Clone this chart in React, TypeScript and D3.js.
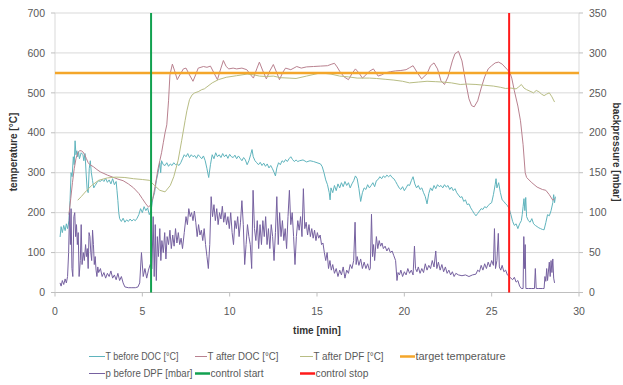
import React from "react";
import * as d3 from "d3";

// ---- data (time [min], value) ----
const tBeforeDOC: [number, number][] = [
  [0.29,139],[0.35,165],[0.42,150],[0.5,168],[0.58,155],[0.65,172],[0.72,160],[0.8,180],[0.86,230],[0.92,300],[0.98,290],[1.05,340],[1.1,320],[1.15,380],[1.2,345],[1.25,355],[1.3,340],[1.35,352],[1.4,335],[1.5,350],[1.6,345],[1.65,330],[1.72,348],[1.78,300],[1.84,258],[1.9,250],[1.96,310],[2.02,330],[2.08,300],[2.15,280],[2.22,262],[2.3,268],[2.4,275],[2.5,280],[2.6,278],[2.7,283],[2.8,278],[2.9,286],[3.0,276],[3.1,282],[3.2,272],[3.3,285],[3.4,270],[3.5,278],[3.55,255],[3.6,230],[3.65,200],[3.7,185],[3.8,178],[3.9,186],[4.0,176],[4.1,182],[4.2,178],[4.3,184],[4.4,179],[4.5,183],[4.6,180],[4.7,186],[4.8,195],[4.9,210],[5.0,200],[5.1,215],[5.2,205],[5.3,212],[5.4,195],[5.5,205],[5.6,235],[5.7,250],[5.8,280],[5.9,300],[6.0,325],[6.05,300],[6.1,330],[6.2,320],[6.3,318],[6.4,325],[6.5,316],[6.6,322],[6.7,318],[6.8,325],[6.9,320],[7.0,322],[7.1,318],[7.2,325],[7.3,335],[7.4,345],[7.5,340],[7.6,348],[7.7,338],[7.8,345],[7.9,340],[8.0,343],[8.1,336],[8.2,345],[8.3,340],[8.4,335],[8.5,342],[8.6,330],[8.7,310],[8.8,288],[8.9,320],[9.0,345],[9.1,335],[9.2,350],[9.3,340],[9.4,345],[9.5,338],[9.6,348],[9.7,340],[9.8,345],[9.9,336],[10.0,346],[10.1,340],[10.2,338],[10.3,344],[10.4,335],[10.5,342],[10.6,336],[10.7,330],[10.8,338],[10.9,332],[11.0,320],[11.1,330],[11.2,345],[11.28,358],[11.35,340],[11.45,330],[11.55,325],[11.65,320],[11.75,326],[11.85,318],[11.95,324],[12.05,316],[12.15,322],[12.25,312],[12.35,318],[12.45,310],[12.55,300],[12.62,292],[12.7,312],[12.8,325],[12.9,320],[13.0,330],[13.1,326],[13.2,333],[13.3,328],[13.4,335],[13.5,340],[13.6,333],[13.7,328],[13.8,332],[13.9,328],[14.0,330],[14.2,332],[14.4,327],[14.6,330],[14.8,328],[15.0,325],[15.2,322],[15.3,315],[15.4,300],[15.5,282],[15.6,270],[15.7,250],[15.75,232],[15.8,262],[15.9,250],[16.0,268],[16.1,255],[16.2,272],[16.3,262],[16.4,275],[16.5,265],[16.6,278],[16.7,268],[16.8,275],[16.9,262],[17.0,272],[17.1,280],[17.2,292],[17.3,285],[17.4,260],[17.5,228],[17.6,250],[17.7,262],[17.8,258],[17.9,270],[18.0,262],[18.1,268],[18.2,275],[18.3,265],[18.4,280],[18.5,283],[18.6,290],[18.7,285],[18.8,292],[18.9,288],[19.0,294],[19.1,290],[19.2,294],[19.3,288],[19.4,285],[19.5,278],[19.6,270],[19.7,262],[19.8,258],[19.9,265],[20.0,255],[20.1,262],[20.2,270],[20.3,268],[20.4,280],[20.5,290],[20.6,272],[20.7,262],[20.8,268],[20.9,258],[21.0,262],[21.1,250],[21.2,240],[21.3,222],[21.4,248],[21.5,262],[21.6,255],[21.7,268],[21.8,260],[21.9,270],[22.0,265],[22.1,268],[22.2,262],[22.3,270],[22.4,264],[22.5,268],[22.6,258],[22.7,264],[22.8,255],[22.9,260],[23.0,250],[23.1,244],[23.2,238],[23.3,240],[23.4,228],[23.5,232],[23.6,220],[23.7,222],[23.8,212],[23.9,205],[24.0,198],[24.1,192],[24.2,198],[24.3,204],[24.4,210],[24.5,208],[24.6,215],[24.7,212],[24.8,218],[24.9,222],[25.0,225],[25.1,245],[25.2,270],[25.25,285],[25.3,262],[25.4,275],[25.5,250],[25.6,232],[25.7,228],[25.8,222],[25.9,218],[26.0,210],[26.1,195],[26.2,178],[26.3,168],[26.4,172],[26.5,160],[26.6,172],[26.7,180],[26.75,195],[26.8,215],[26.85,235],[26.9,205],[26.95,238],[27.0,190],[27.1,180],[27.2,176],[27.3,185],[27.4,172],[27.5,168],[27.6,165],[27.7,162],[27.8,160],[27.9,158],[28.0,157],[28.1,175],[28.2,195],[28.3,192],[28.4,205],[28.5,225],[28.55,245],[28.6,225],[28.65,240]
];

const tAfterDOC: [number, number][] = [
  [0.8,195],[0.9,235],[1.0,275],[1.1,310],[1.2,335],[1.3,350],[1.4,355],[1.5,355],[1.6,352],[1.7,345],[1.8,335],[1.9,325],[2.0,320],[2.2,315],[2.4,308],[2.6,302],[2.8,298],[3.0,294],[3.3,289],[3.6,284],[3.9,280],[4.2,272],[4.5,262],[4.8,248],[5.0,235],[5.2,222],[5.35,214],[5.45,218],[5.6,235],[5.75,270],[5.9,310],[6.0,330],[6.1,350],[6.2,375],[6.3,400],[6.4,420],[6.5,480],[6.58,545],[6.72,572],[6.85,555],[7.0,533],[7.15,545],[7.35,560],[7.5,562],[7.7,545],[7.9,529],[8.05,545],[8.2,562],[8.5,566],[8.7,564],[8.9,567],[9.1,550],[9.3,533],[9.45,555],[9.64,581],[9.8,566],[9.95,560],[10.2,562],[10.4,560],[10.7,562],[10.98,558],[11.2,545],[11.36,537],[11.55,560],[11.7,577],[11.9,555],[12.1,535],[12.3,555],[12.5,571],[12.7,550],[12.85,533],[13.05,552],[13.2,562],[13.5,558],[13.84,566],[14.1,562],[14.4,565],[14.8,566],[15.2,567],[15.6,568],[15.85,572],[16.0,574],[16.15,565],[16.3,554],[16.55,540],[16.8,533],[17.0,548],[17.2,560],[17.4,550],[17.6,537],[17.8,545],[18.0,554],[18.23,560],[18.5,542],[18.7,545],[18.9,550],[19.2,553],[19.5,555],[19.8,556],[20.1,558],[20.3,563],[20.5,568],[20.75,550],[20.99,535],[21.3,548],[21.5,568],[21.7,575],[21.9,560],[22.1,530],[22.3,521],[22.5,540],[22.75,580],[22.9,598],[23.1,604],[23.3,580],[23.5,530],[23.7,485],[23.85,468],[24.0,465],[24.2,480],[24.4,512],[24.6,540],[24.8,560],[25.0,568],[25.2,575],[25.4,577],[25.6,572],[25.9,558],[26.05,550],[26.15,537],[26.3,505],[26.5,467],[26.65,430],[26.8,370],[26.92,300],[27.0,288],[27.3,275],[27.6,264],[27.9,258],[28.1,256],[28.3,245],[28.5,231],[28.6,235]
];

const tAfterDPF: [number, number][] = [
  [1.3,231],[1.5,240],[1.8,255],[2.1,268],[2.5,281],[3.0,287],[3.5,289],[4.0,288],[4.5,285],[5.0,283],[5.4,281],[5.7,268],[6.0,256],[6.3,252],[6.6,268],[6.8,290],[7.05,331],[7.25,380],[7.45,431],[7.55,455],[7.7,483],[7.85,495],[8.0,500],[8.2,503],[8.4,508],[8.55,510],[8.7,515],[9.0,525],[9.35,533],[9.8,539],[10.4,543],[11.0,547],[11.4,545],[11.7,542],[12.1,541],[12.5,542],[12.9,538],[13.4,537],[13.8,536],[14.4,542],[15.2,550],[15.8,547],[16.3,542],[16.8,540],[17.3,537],[18.0,537],[18.4,536],[18.9,534],[19.4,532],[19.9,529],[20.3,525],[20.8,527],[21.3,529],[21.8,528],[22.2,527],[22.7,525],[23.2,521],[23.6,522],[24.1,521],[24.6,519],[25.1,517],[25.5,514],[25.8,511],[26.1,512],[26.4,510],[26.55,515],[26.7,521],[26.85,512],[27.0,508],[27.2,504],[27.4,500],[27.55,506],[27.7,503],[27.85,497],[28.0,493],[28.15,497],[28.3,500],[28.45,490],[28.6,477]
];

// backpressure in mbar (secondary axis)
const pBeforeDPF: [number, number][] = [
  [0.29,12],[0.35,8],[0.42,15],[0.5,10],[0.58,17],[0.65,12],[0.72,20],[0.78,50],[0.83,100],[0.88,60],[0.92,105],[0.97,30],[1.02,20],[1.08,95],[1.13,100],[1.18,70],[1.23,85],[1.28,60],[1.33,75],[1.38,20],[1.45,40],[1.5,85],[1.55,35],[1.62,50],[1.68,40],[1.75,60],[1.8,45],[1.85,55],[1.9,30],[1.95,75],[2.0,70],[2.05,50],[2.1,40],[2.15,78],[2.2,60],[2.25,35],[2.3,45],[2.35,28],[2.4,20],[2.45,32],[2.5,25],[2.6,30],[2.7,20],[2.8,25],[2.9,18],[3.0,24],[3.1,20],[3.2,27],[3.3,18],[3.4,22],[3.5,16],[3.6,24],[3.7,15],[3.8,20],[3.9,12],[4.0,7],[4.2,6],[4.4,6],[4.6,6],[4.75,7],[4.85,12],[4.95,50],[5.05,20],[5.15,30],[5.25,18],[5.35,28],[5.45,35],[5.55,30],[5.62,95],[5.68,20],[5.74,85],[5.8,15],[5.86,70],[5.92,45],[6.0,80],[6.06,40],[6.12,65],[6.2,50],[6.28,75],[6.35,42],[6.42,70],[6.5,60],[6.58,78],[6.66,55],[6.74,72],[6.82,58],[6.9,80],[6.98,62],[7.06,75],[7.14,60],[7.22,68],[7.3,55],[7.4,75],[7.5,95],[7.58,85],[7.66,105],[7.74,95],[7.82,100],[7.9,90],[7.98,102],[8.06,88],[8.14,70],[8.22,85],[8.3,72],[8.38,78],[8.46,65],[8.54,80],[8.62,60],[8.7,45],[8.78,30],[8.86,60],[8.94,120],[9.02,95],[9.1,110],[9.18,90],[9.26,105],[9.34,85],[9.42,100],[9.5,92],[9.58,108],[9.66,88],[9.74,100],[9.82,85],[9.9,95],[9.98,80],[10.06,100],[10.14,75],[10.22,60],[10.3,90],[10.38,80],[10.46,95],[10.54,70],[10.62,88],[10.7,115],[10.78,85],[10.86,35],[10.94,60],[11.02,85],[11.1,70],[11.18,60],[11.26,30],[11.34,128],[11.42,80],[11.5,65],[11.58,90],[11.66,55],[11.74,85],[11.82,60],[11.9,90],[11.98,70],[12.06,95],[12.14,60],[12.22,80],[12.3,55],[12.38,85],[12.46,70],[12.54,40],[12.62,75],[12.7,120],[12.78,60],[12.86,100],[12.94,70],[13.02,90],[13.1,65],[13.18,80],[13.26,55],[13.34,95],[13.42,128],[13.5,85],[13.58,100],[13.66,70],[13.74,35],[13.82,70],[13.9,90],[13.98,78],[14.06,95],[14.14,70],[14.22,130],[14.3,80],[14.38,88],[14.46,72],[14.54,85],[14.62,70],[14.7,80],[14.78,68],[14.86,78],[14.94,65],[15.02,75],[15.1,68],[15.18,72],[15.26,60],[15.34,62],[15.42,50],[15.5,40],[15.58,50],[15.66,30],[15.74,40],[15.82,28],[15.9,35],[16.0,24],[16.1,30],[16.2,20],[16.3,28],[16.4,22],[16.5,32],[16.6,18],[16.7,28],[16.8,24],[16.9,35],[17.0,30],[17.1,40],[17.18,88],[17.24,35],[17.3,45],[17.4,34],[17.5,42],[17.6,30],[17.7,38],[17.8,30],[17.9,36],[18.0,28],[18.05,30],[18.12,98],[18.18,45],[18.24,60],[18.3,40],[18.4,70],[18.48,55],[18.56,65],[18.64,58],[18.72,62],[18.8,55],[18.9,58],[19.0,52],[19.1,56],[19.2,50],[19.3,52],[19.4,46],[19.5,40],[19.58,15],[19.64,25],[19.72,22],[19.8,28],[19.9,20],[20.0,26],[20.1,22],[20.2,30],[20.3,24],[20.4,28],[20.5,22],[20.58,58],[20.64,30],[20.72,26],[20.8,32],[20.9,24],[21.0,30],[21.1,25],[21.2,36],[21.3,28],[21.4,34],[21.5,30],[21.6,40],[21.7,32],[21.8,52],[21.86,30],[21.95,38],[22.05,28],[22.15,35],[22.25,26],[22.35,32],[22.45,24],[22.55,28],[22.65,22],[22.75,26],[22.85,20],[22.95,24],[23.1,22],[23.3,21],[23.5,22],[23.7,20],[23.9,22],[24.1,23],[24.2,28],[24.3,26],[24.4,34],[24.5,28],[24.6,36],[24.7,30],[24.8,38],[24.9,32],[25.0,40],[25.1,34],[25.16,80],[25.22,30],[25.3,40],[25.38,74],[25.44,32],[25.52,28],[25.6,34],[25.7,26],[25.8,28],[25.9,22],[26.0,20],[26.1,18],[26.2,16],[26.3,19],[26.4,13],[26.5,15],[26.6,8],[26.7,5],[26.8,5],[26.84,70],[26.88,30],[26.92,60],[26.96,5],[27.1,5],[27.3,5],[27.45,5],[27.5,30],[27.55,5],[27.7,5],[27.9,5],[28.0,5],[28.05,20],[28.1,14],[28.15,30],[28.2,15],[28.3,38],[28.35,20],[28.4,40],[28.45,25],[28.5,42],[28.55,18],[28.6,12]
];

const targetTemperature = 550;
const controlStart = 5.5;
const controlStop = 26;

const xTicks = [0, 5, 10, 15, 20, 25, 30];
const yLeftTicks = [0, 100, 200, 300, 400, 500, 600, 700];
const yRightTicks = [0, 50, 100, 150, 200, 250, 300, 350];

const legendRow1 = ["T before DOC [°C]", "T after DOC [°C]", "T after DPF [°C]", "target temperature"];
const legendRow2 = ["p before DPF [mbar]", "control start", "control stop"];

const COL = {
  before: "#5fb4bd",
  afterDOC: "#b9818f",
  afterDPF: "#b8bd84",
  p: "#7661a0",
  target: "#f4a62a",
  start: "#12a150",
  stop: "#ff1a1a",
};

export default function App() {
  const W = 623, H = 385;
  const left = 55, right = 579, top = 13, bottom = 292.5;
  const x = d3.scaleLinear().domain([0, 30]).range([left, right]);
  const yL = d3.scaleLinear().domain([0, 700]).range([bottom, top]);
  const yR = d3.scaleLinear().domain([0, 350]).range([bottom, top]);

  const lineL = d3.line<[number, number]>().x(d => x(d[0])).y(d => yL(d[1]));
  const lineR = d3.line<[number, number]>().x(d => x(d[0])).y(d => yR(d[1]));

  const font = "'Liberation Sans', Arial, sans-serif";
  const tickColor = "#595959";

  const leg1X = [89, 195, 300, 400];
  const leg1Len = [16, 12, 13, 15];
  const leg1TW = [73, 71, 70, 90];
  const leg2X = [89, 195, 300];
  const leg2Len = [16, 15, 15];
  const leg2TW = [87, 53, 53];
  const leg1Col = [COL.before, COL.afterDOC, COL.afterDPF, COL.target];
  const leg2Col = [COL.p, COL.start, COL.stop];
  const leg1W = [1, 1, 1, 2.5];
  const leg2W = [1, 2.5, 2.5];
  const row1Y = 356.5, row2Y = 373.5;

  return (
    <svg width={W} height={H} style={{ position: "absolute", left: 0, top: 0, background: "#fff" }} fontFamily={font}>
      <rect width={W} height={H} fill="#fff" />
      {yLeftTicks.map(t => (
        <line key={"g" + t} x1={left} x2={right} y1={yL(t)} y2={yL(t)} stroke={t === 0 ? "#bfbfbf" : "#d9d9d9"} strokeWidth={1} />
      ))}
      <line x1={left} x2={left} y1={top} y2={bottom} stroke="#d9d9d9" />
      <line x1={right} x2={right} y1={top} y2={bottom} stroke="#d9d9d9" />
      {yLeftTicks.map(t => (
        <g key={"yl" + t}>
          <line x1={left - 4} x2={left} y1={yL(t)} y2={yL(t)} stroke="#bfbfbf" />
          <text x={45} y={yL(t)} dy="0.35em" textAnchor="end" fontSize={10.5} fill={tickColor}>{t}</text>
        </g>
      ))}
      {yRightTicks.map(t => (
        <g key={"yr" + t}>
          <line x1={right} x2={right + 4} y1={yR(t)} y2={yR(t)} stroke="#bfbfbf" />
          <text x={589} y={yR(t)} dy="0.35em" textAnchor="start" fontSize={10.5} fill={tickColor}>{t}</text>
        </g>
      ))}
      {xTicks.map(t => (
        <g key={"x" + t}>
          <line x1={x(t)} x2={x(t)} y1={bottom} y2={bottom + 4} stroke="#bfbfbf" />
          <text x={x(t)} y={311} dy="0.35em" textAnchor="middle" fontSize={10.5} fill={tickColor}>{t}</text>
        </g>
      ))}
      <text x={317} y={330} dy="0.35em" textAnchor="middle" fontSize={10} fontWeight="bold" fill="#333">time [min]</text>
      <text transform={`translate(13,152) rotate(-90)`} textAnchor="middle" dy="0.35em" fontSize={10} fontWeight="bold" fill="#333">temperature [°C]</text>
      <text transform={`translate(616,152) rotate(90)`} textAnchor="middle" dy="0.35em" fontSize={10} fontWeight="bold" fill="#333">backpressure [mbar]</text>

      <path d={lineL(tBeforeDOC) || ""} fill="none" stroke={COL.before} strokeWidth={1} />
      <path d={lineL(tAfterDOC) || ""} fill="none" stroke={COL.afterDOC} strokeWidth={1} />
      <path d={lineL(tAfterDPF) || ""} fill="none" stroke={COL.afterDPF} strokeWidth={1} />
      <path d={lineR(pBeforeDPF) || ""} fill="none" stroke={COL.p} strokeWidth={1} />

      <line x1={x(0)} x2={x(30)} y1={yL(targetTemperature)} y2={yL(targetTemperature)} stroke={COL.target} strokeWidth={2.5} />
      <line x1={x(controlStart)} x2={x(controlStart)} y1={yL(0)} y2={yL(700)} stroke={COL.start} strokeWidth={2} />
      <line x1={x(controlStop)} x2={x(controlStop)} y1={yL(0)} y2={yL(700)} stroke={COL.stop} strokeWidth={2} />

      {legendRow1.map((s, i) => (
        <g key={"l1" + i}>
          <line x1={leg1X[i]} x2={leg1X[i] + leg1Len[i]} y1={row1Y} y2={row1Y} stroke={leg1Col[i]} strokeWidth={leg1W[i]} />
          <text x={leg1X[i] + leg1Len[i] + 0.5} y={row1Y} dy="0.35em" fontSize={10} fill={tickColor} textLength={leg1TW[i]} lengthAdjust="spacingAndGlyphs">{s}</text>
        </g>
      ))}
      {legendRow2.map((s, i) => (
        <g key={"l2" + i}>
          <line x1={leg2X[i]} x2={leg2X[i] + leg2Len[i]} y1={row2Y} y2={row2Y} stroke={leg2Col[i]} strokeWidth={leg2W[i]} />
          <text x={leg2X[i] + leg2Len[i] + 0.5} y={row2Y} dy="0.35em" fontSize={10} fill={tickColor} textLength={leg2TW[i]} lengthAdjust="spacingAndGlyphs">{s}</text>
        </g>
      ))}
    </svg>
  );
}
